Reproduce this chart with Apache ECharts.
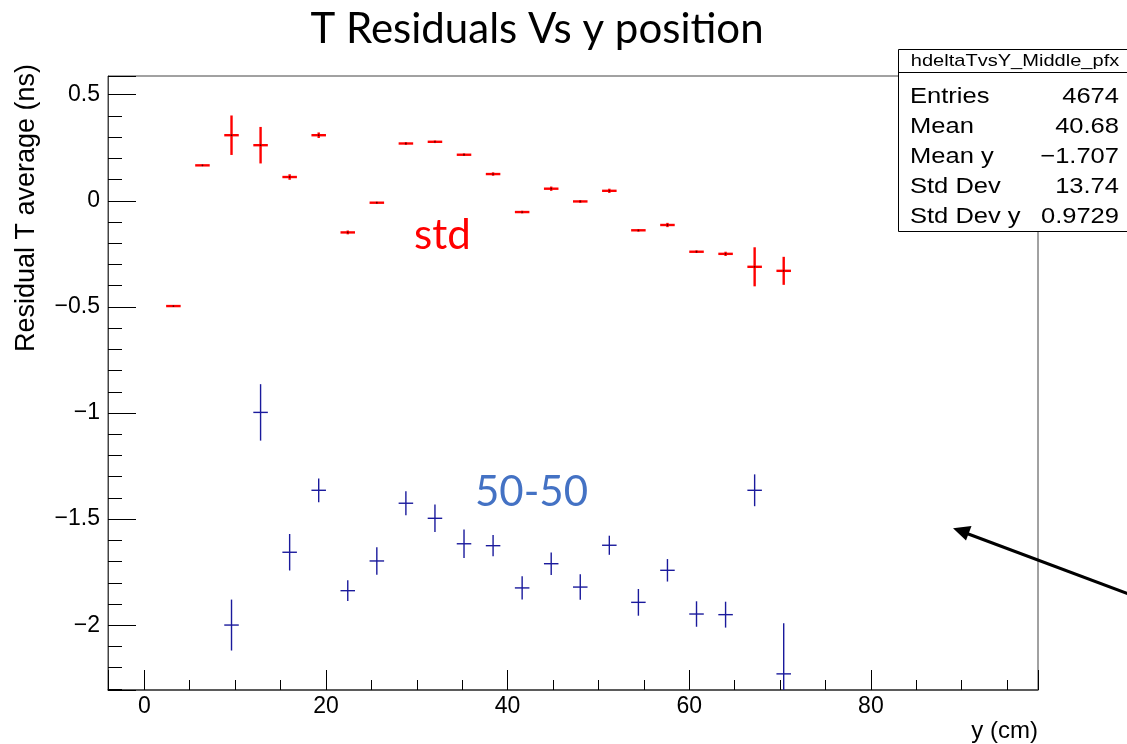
<!DOCTYPE html>
<html><head><meta charset="utf-8">
<script src="https://cdn.jsdelivr.net/npm/echarts@6/dist/echarts.min.js"></script>
<style>html,body{margin:0;padding:0;background:#fff}#c{width:1127px;height:744px}</style>
</head><body><div id="c"></div>
<script>
// ---- data ----
const binCenters = [3.2, 6.4, 9.6, 12.8, 16.0, 19.2, 22.4, 25.6, 28.8, 32.0, 35.2,
                    38.4, 41.6, 44.8, 48.0, 51.2, 54.4, 57.6, 60.8, 64.0, 67.2, 70.4];
const stdMean = [-0.496, 0.167, 0.309, 0.262, 0.112, 0.309, -0.149, -0.009, 0.270, 0.278, 0.217,
                 0.126, -0.053, 0.057, -0.003, 0.047, -0.139, -0.114, -0.240, -0.250, -0.311, -0.330];
const stdErr  = [0.003, 0.003, 0.093, 0.086, 0.013, 0.013, 0.009, 0.004, 0.006, 0.006, 0.006,
                 0.008, 0.006, 0.010, 0.006, 0.010, 0.006, 0.010, 0.006, 0.010, 0.092, 0.066];
const fiftyMean = [null, null, -1.999, -0.997, -1.656, -1.364, -1.837, -1.697, -1.425, -1.496, -1.616,
                   -1.625, -1.824, -1.710, -1.820, -1.623, -1.892, -1.741, -1.947, -1.950, -1.364, -2.229];
const fiftyErr  = [null, null, 0.120, 0.133, 0.086, 0.056, 0.049, 0.065, 0.057, 0.065, 0.067,
                   0.050, 0.055, 0.053, 0.060, 0.045, 0.063, 0.053, 0.060, 0.061, 0.075, 0.239];
const xHalfError = 0.8;
const xRange = [-4, 98.4];
const yRange = [-2.305, 0.588];
const xMajorStep = 20;
const yMajorStep = 0.5;
const titleText = 'T Residuals Vs y position';
const xTitle = 'y (cm)';
const yTitle = 'Residual T average (ns)';
const statsName = 'hdeltaTvsY_Middle_pfx';
const statsLabels = ['Entries', 'Mean', 'Mean y', 'Std Dev', 'Std Dev y'];
const statsValues = ['4674', '40.68', '\u22121.707', '13.74', '0.9729'];
const seriesLabels = ['std', '50-50'];

// ---- build ----
function toData(means, errs) {
  const out = [];
  binCenters.forEach((x, i) => { if (means[i] != null) out.push([x, means[i], errs[i]]); });
  return out;
}
function errorRender(color, lw, dot) {
  return function (params, api) {
    const x = api.value(0), y = api.value(1), e = api.value(2);
    const cs = params.coordSys;
    const cy = v => Math.max(cs.y, Math.min(cs.y + cs.height, v));
    const c = api.coord([x, y]);
    const t = api.coord([x, y + e]);
    const b = api.coord([x, y - e]);
    const l = api.coord([x - xHalfError, y]);
    const r = api.coord([x + xHalfError, y]);
    const ch = [
      { type: 'line', shape: { x1: c[0], y1: cy(t[1]), x2: c[0], y2: cy(b[1]) }, style: { stroke: color, lineWidth: lw } },
      { type: 'line', shape: { x1: l[0], y1: c[1], x2: r[0], y2: c[1] }, style: { stroke: color, lineWidth: lw } }
    ];
    if (dot) ch.push({ type: 'circle', shape: { cx: c[0], cy: c[1], r: 0.9 }, style: { fill: '#5a0000' } });
    return { type: 'group', children: ch };
  };
}
const fmt = v => (v < 0 ? '\u2212' + Math.abs(v) : String(v));
const FONT = '"Liberation Sans", Arial, Helvetica, sans-serif';
const CAL = 'Lato, "Open Sans", sans-serif';
const SX = 1.16; // stats text is horizontally stretched in the reference

const graphics = [
  { type: 'text', style: { text: titleText, x: 537, y: 29, textAlign: 'center', textVerticalAlign: 'middle', font: '42px ' + CAL, fill: '#000' } },
  { type: 'text', rotation: Math.PI / 2, x: 27, y: 208, style: { text: yTitle, x: 0, y: 0, textAlign: 'center', textVerticalAlign: 'middle', font: '27px ' + FONT, fill: '#000' } },
  { type: 'text', style: { text: xTitle, x: 1038, y: 731, textAlign: 'right', textVerticalAlign: 'middle', font: '24px ' + FONT, fill: '#000' } },
  { type: 'text', style: { text: seriesLabels[0], x: 414, y: 235, textAlign: 'left', textVerticalAlign: 'middle', font: '42px ' + CAL, fill: '#ff0000' } },
  { type: 'text', style: { text: seriesLabels[1], x: 475, y: 492, textAlign: 'left', textVerticalAlign: 'middle', font: '42px ' + CAL, fill: '#4472c4' } },
  // stats box
  { type: 'rect', shape: { x: 898.5, y: 49.5, width: 240, height: 182 }, style: { fill: '#fff', stroke: '#000', lineWidth: 1 }, z: 10 },
  { type: 'line', shape: { x1: 898.5, y1: 72.5, x2: 1127, y2: 72.5 }, style: { stroke: '#000', lineWidth: 1 }, z: 11 },
  { type: 'text', z: 11, x: 1015, y: 61, scaleX: 1.18, style: { text: statsName, x: 0, y: 0, textAlign: 'center', textVerticalAlign: 'middle', font: '17px ' + FONT, fill: '#000' } },
  // arrow
  { type: 'line', shape: { x1: 967, y1: 533.5, x2: 1132, y2: 595.3 }, style: { stroke: '#000', lineWidth: 3 }, z: 12 },
  { type: 'polygon', shape: { points: [[953, 528.3], [966, 540.6], [971.5, 526]] }, style: { fill: '#000' }, z: 12 }
];
statsLabels.forEach((s, i) => {
  graphics.push({ type: 'text', z: 11, x: 910, y: 97 + 30 * i, scaleX: SX, style: { text: s, x: 0, y: 0, textAlign: 'left', textVerticalAlign: 'middle', font: '22px ' + FONT, fill: '#000' } });
  graphics.push({ type: 'text', z: 11, x: 1119, y: 97 + 30 * i, scaleX: SX, style: { text: statsValues[i], x: 0, y: 0, textAlign: 'right', textVerticalAlign: 'middle', font: '22px ' + FONT, fill: '#000' } });
});

const chart = echarts.init(document.getElementById('c'), null, { renderer: 'canvas' });
chart.setOption({
  animation: false,
  backgroundColor: '#fff',
  grid: { left: 108, right: 89, top: 76, bottom: 54, show: true, borderColor: '#444', borderWidth: 1, containLabel: false },
  xAxis: {
    type: 'value', min: xRange[0], max: xRange[1], minInterval: xMajorStep, maxInterval: xMajorStep,
    axisLine: { show: true, onZero: false, lineStyle: { color: '#444', width: 1.5 } },
    axisTick: { show: true, inside: true, length: 20, lineStyle: { color: '#000' } },
    minorTick: { show: true, splitNumber: 4, length: 10, lineStyle: { color: '#000' } },
    splitLine: { show: false },
    axisLabel: { show: true, showMinLabel: false, showMaxLabel: false, margin: 5, color: '#000', fontSize: 23, fontFamily: FONT, formatter: fmt }
  },
  yAxis: {
    type: 'value', min: yRange[0], max: yRange[1], minInterval: yMajorStep, maxInterval: yMajorStep,
    axisLine: { show: true, onZero: false, lineStyle: { color: '#444', width: 1 } },
    axisTick: { show: true, inside: true, length: 28, lineStyle: { color: '#000' } },
    minorTick: { show: true, splitNumber: 5, length: 14, lineStyle: { color: '#000' } },
    splitLine: { show: false },
    axisLabel: { show: true, showMinLabel: false, showMaxLabel: false, margin: 8, color: '#000', fontSize: 23, fontFamily: FONT, formatter: fmt }
  },
  series: [
    { name: '50-50', type: 'custom', renderItem: errorRender('#1a1a9c', 1.4, false), data: toData(fiftyMean, fiftyErr), encode: { x: 0, y: 1 } },
    { name: 'std', type: 'custom', renderItem: errorRender('#ff0000', 2.4, true), data: toData(stdMean, stdErr), encode: { x: 0, y: 1 } }
  ],
  graphic: graphics
});
</script></body></html>
